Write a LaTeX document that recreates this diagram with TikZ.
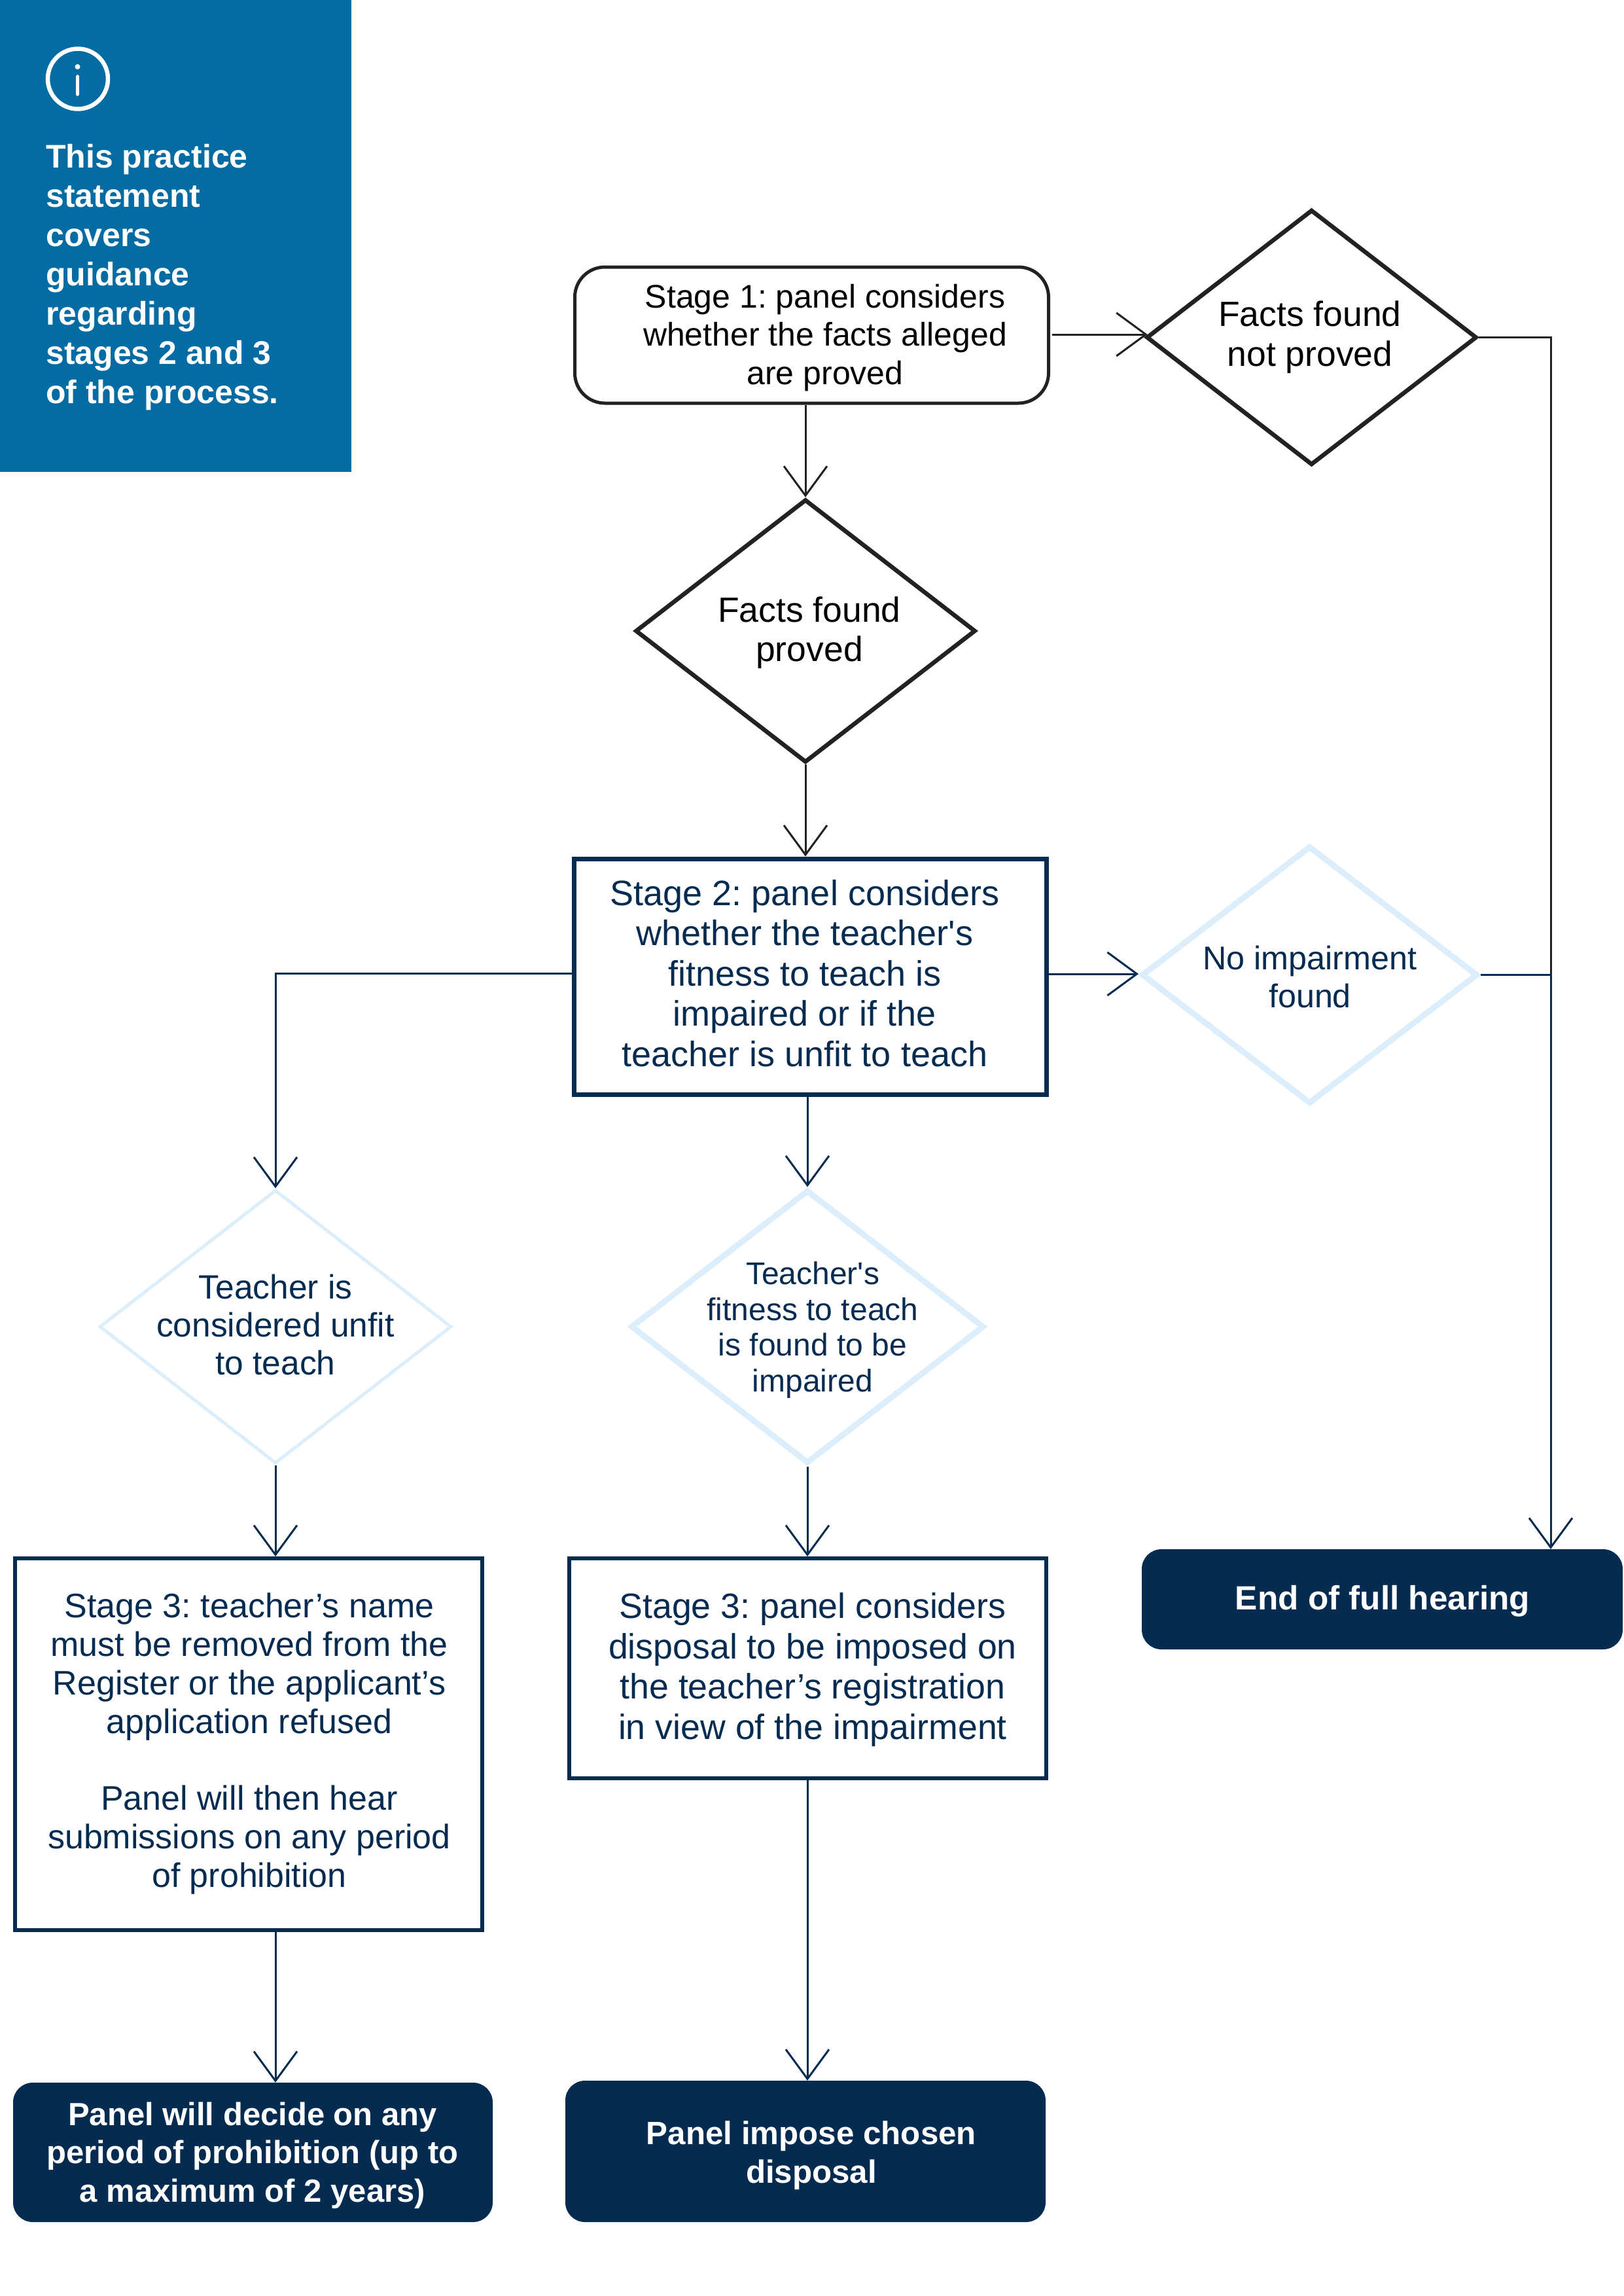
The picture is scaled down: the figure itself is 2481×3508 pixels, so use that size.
\documentclass[tikz,border=0pt]{standalone}
\usepackage{fontspec}
\setmainfont{Liberation Sans}
\usetikzlibrary{shapes.geometric,arrows.meta}
\definecolor{navy}{HTML}{052C50}
\definecolor{ink}{HTML}{222222}
\definecolor{pale}{HTML}{DCEEFB}
\definecolor{infoblue}{HTML}{046BA3}
\newcommand{\fs}[2]{\fontsize{#1}{#2}\selectfont\frenchspacing}
\tikzset{
  x=1pt,y=-1pt,
  label text/.style={align=center,inner sep=0pt,text=navy},
  dk/.style={diamond,draw=ink,line width=6.5pt,inner sep=0pt,fill=white},
  lt/.style={diamond,draw=pale,inner sep=0pt,fill=white},
  sq/.style={rectangle,draw=navy,fill=white,inner sep=0pt},
  term/.style={rectangle,rounded corners=30pt,fill=navy,inner sep=0pt},
  flow/.style={draw=navy,line width=3pt,-{Straight Barb[length=45pt,width=66pt]}},
  flowk/.style={draw=ink,line width=3pt,-{Straight Barb[length=45pt,width=66pt]}},
  plain/.style={draw=navy,line width=3pt},
  plaink/.style={draw=ink,line width=3pt},
}
\begin{document}
\begin{tikzpicture}
\useasboundingbox (0,0) rectangle (2481,3508);
% info panel
\fill[infoblue] (0,0) rectangle (537,721);
\node[circle,draw=white,line width=6.5pt,minimum size=92pt,inner sep=0pt] (icon) at (119,120.5) {};
\draw[white,line width=5.5pt,line cap=round] (118.5,117) -- (118.5,144);
\fill[white] (118.5,102) circle (4pt);
\node[anchor=north west,align=left,text=white,inner sep=0pt,font={\fs{50}{60}\bfseries}] (info) at (70,220) {This practice\\statement\\covers\\guidance\\regarding\\stages 2 and 3\\of the process.};
% stage 1 and diamonds
\node[rectangle,rounded corners=46pt,draw=ink,line width=5pt,minimum width=724pt,minimum height=208pt,inner sep=0pt] (s1) at (1240.5,512) {};
\node[label text,text=black,font=\fs{50}{58.5}] at (1261,516) {Stage 1: panel considers\\whether the facts alleged\\are proved};
\node[dk,minimum width=505pt,minimum height=390pt] (nfp) at (2004.5,515.5) {};
\node[label text,text=black,font=\fs{53.5}{61}] at (2002,515) {Facts found\\not proved};
\node[dk,minimum width=520pt,minimum height=402pt] (fp) at (1231,964) {};
\node[label text,text=black,font=\fs{53.5}{60}] at (1237,967) {Facts found\\proved};
% stage 2
\node[sq,line width=7pt,minimum width=722pt,minimum height=360pt] (s2) at (1238,1492) {};
\node[label text,font=\fs{54}{61.5}] at (1230,1487) {Stage 2: panel considers\\whether the teacher\textquotesingle s\\fitness to teach is\\impaired or if the\\teacher is unfit to teach};
\node[lt,line width=9pt,minimum width=514pt,minimum height=394pt] (ni) at (2001.5,1489.5) {};
\node[label text,font=\fs{50.3}{58}] at (2002,1493) {No impairment\\found};
% diamonds row
\node[lt,line width=5pt,minimum width=538pt,minimum height=418pt] (tu) at (421,2027) {};
\node[label text,font=\fs{51.5}{58}] at (421,2024) {Teacher is\\considered unfit\\to teach};
\node[lt,line width=9pt,minimum width=540pt,minimum height=418pt] (ti) at (1234,2027) {};
\node[label text,font=\fs{48}{54.8}] at (1242,2032) {Teacher\textquotesingle s\\fitness to teach\\is found to be\\impaired};
% stage 3
\node[sq,line width=6pt,minimum width=714pt,minimum height=568pt] (s3a) at (380,2665) {};
\node[label text,font=\fs{52}{58.8}] at (381,2664) {Stage 3: teacher’s name\\must be removed from the\\Register or the applicant’s\\application refused\\[58.8pt]Panel will then hear\\submissions on any period\\of prohibition};
\node[sq,line width=6pt,minimum width=729pt,minimum height=336pt] (s3b) at (1234.5,2549) {};
\node[label text,font=\fs{53.7}{61.7}] at (1242,2551) {Stage 3: panel considers\\disposal to be imposed on\\the teacher’s registration\\in view of the impairment};
% terminals
\node[term,minimum width=733pt,minimum height=213pt] (pa) at (386.5,3288.5) {};
\node[label text,text=white,font=\fs{49}{58.5}\bfseries] at (386,3293) {Panel will decide on any\\period of prohibition (up to\\a maximum of 2 years)};
\node[term,minimum width=734pt,minimum height=216pt] (pb) at (1231,3287) {};
\node[label text,text=white,font=\fs{49.3}{58.8}\bfseries] at (1240,3293) {Panel impose chosen\\disposal};
\node[term,minimum width=735pt,minimum height=153pt] (end) at (2112.5,2443.5) {};
\node[label text,text=white,font=\fs{51.3}{58.8}\bfseries] at (2113,2446) {End of full hearing};
% connectors
\coordinate (rail) at (2370,0);
\coordinate (s1out) at (1608,511);
\coordinate (s2outl) at (874,1487);
\coordinate (s2outr) at (1602,1488);
\draw[flowk] (s1.south -| fp.north) -- (fp.north);
\draw[flowk] (s1out) -- ([xshift=5pt]s1out -| nfp.west);
\draw[flowk] (fp.south) -- (fp.south |- s2.north);
\draw[plaink] (nfp.east) -| (rail |- ni.east);
\draw[plain] (ni.east) -- (rail |- ni.east);
\draw[flow] (rail |- ni.east) -- (rail |- end.north);
\draw[flow] (s2outr) -- (s2outr -| ni.west);
\draw[flow] (s2outl) -| (tu.north);
\draw[flow] (ti.north |- s2.south) -- (ti.north);
\draw[flow] (tu.south) -- (tu.south |- s3a.north);
\draw[flow] (ti.south) -- (ti.south |- s3b.north);
\draw[flow] (tu.south |- s3a.south) -- (tu.south |- pa.north);
\draw[flow] (ti.south |- s3b.south) -- (ti.south |- pb.north);
\end{tikzpicture}
\end{document}
